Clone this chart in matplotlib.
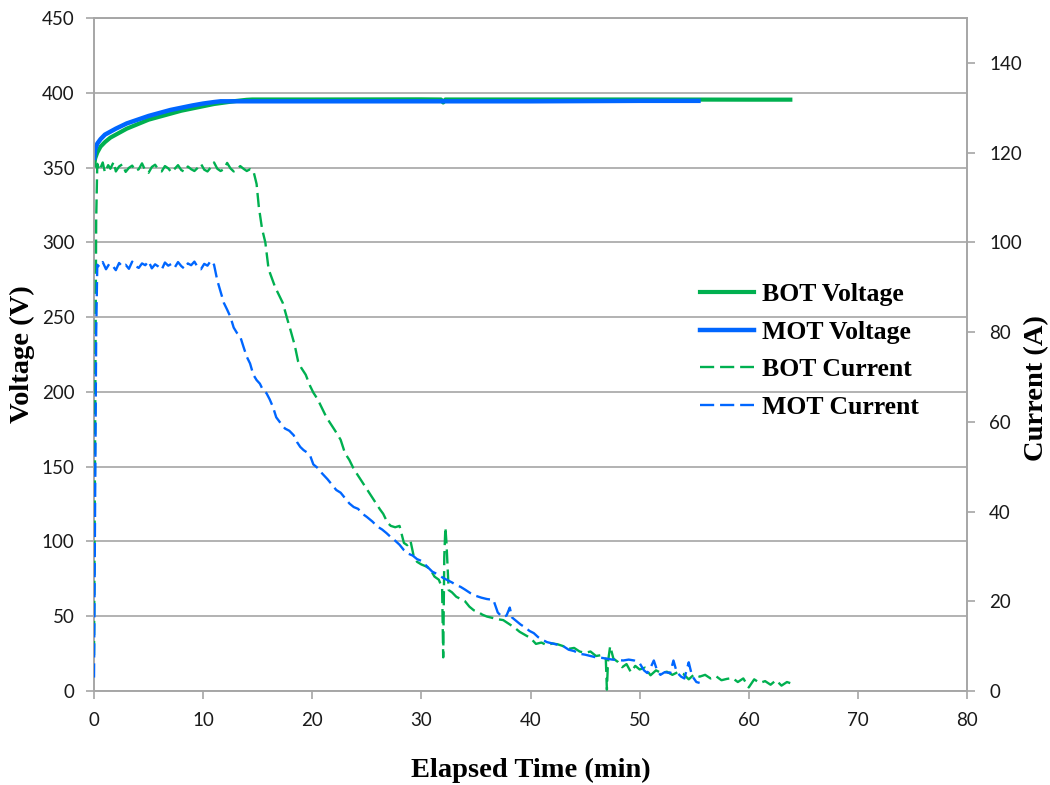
import matplotlib
matplotlib.use("Agg")
import matplotlib.pyplot as plt
from matplotlib.lines import Line2D

# --- voltage (V) vs elapsed time (min) ---
bot_v_time = [0.0, 0.1, 0.3, 0.6, 1.0, 1.5, 2.0, 3.0, 4.0, 5.0, 6.0, 7.0, 8.0, 9.0,
              10.0, 11.0, 12.0, 13.0, 14.0, 14.5, 20.0, 30.0, 31.8, 32.0, 32.2,
              40.0, 50.0, 60.0, 64.0]
bot_v = [350, 356, 360, 364, 367, 370, 372, 376, 379, 382, 384, 386, 388, 389.5,
         391, 392.5, 393.5, 394.5, 395.3, 395.5, 395.5, 395.6, 395.5, 393.5, 395.5,
         395.5, 395.5, 395.4, 395.4]

mot_v_time = [0.0, 0.1, 0.3, 0.6, 1.0, 1.5, 2.0, 3.0, 4.0, 5.0, 6.0, 7.0, 8.0, 9.0,
              10.0, 11.0, 11.6, 20.0, 30.0, 40.0, 47.0, 50.0, 55.6]
mot_v = [355, 362, 366, 369, 372, 374, 376, 379.5, 382, 384.5, 386.5, 388.5, 390,
         391.5, 392.8, 393.8, 394.3, 394.3, 394.3, 394.3, 394.5, 394.6, 394.6]

# --- current (A) vs elapsed time (min) ---
bot_i_time = [0.0, 0.1, 0.2, 0.3,
              0.5, 0.8, 1.0, 1.3, 1.5, 1.8, 2.0, 2.3, 2.6, 2.9,
              3.2, 3.5, 3.8, 4.1, 4.4, 4.7, 5.0, 5.3, 5.6, 5.9,
              6.2, 6.5, 6.8, 7.1, 7.4, 7.7, 8.0, 8.3, 8.6, 8.9,
              9.2, 9.5, 9.8, 10.1, 10.4, 10.7, 11.0, 11.3, 11.6, 11.9,
              12.2, 12.5, 12.8, 13.1, 13.4, 13.7, 14.0, 14.3, 14.6,
              14.9, 15.1, 15.4, 15.7, 16.0, 16.3, 16.6, 17.0, 17.3, 17.7,
              18.0, 18.4, 18.7, 19.0, 19.4, 19.8, 20.1, 20.5, 20.9, 21.3,
              21.7, 22.1, 22.6, 23.0, 23.4, 23.8, 24.2, 24.6, 25.0, 25.4,
              25.8, 26.2, 26.5, 26.9, 27.2, 27.6, 28.0, 28.4, 28.7, 29.0,
              29.3, 29.6, 30.0, 30.4, 30.8, 31.2, 31.6, 31.9, 32.0, 32.1,
              32.2, 32.3, 32.5, 32.8, 33.2, 33.6, 34.0, 34.4, 34.8, 35.2,
              35.6, 36.0, 36.5, 37.0, 37.5, 38.0, 38.5, 39.0, 39.5, 40.0,
              40.5, 41.0, 41.5, 42.0, 42.5, 43.0, 43.5, 44.0, 44.5, 45.0,
              45.5, 46.0, 46.5, 46.9, 47.0, 47.1, 47.3, 47.6, 48.0, 48.4,
              48.8, 49.2, 49.6, 50.0, 50.5, 51.0, 51.5, 52.0, 52.5, 53.0,
              53.5, 54.0, 54.5, 55.0, 55.5, 56.0, 56.5, 57.0, 57.5, 58.0,
              58.5, 59.0, 59.5, 60.0, 60.5, 61.0, 61.5, 62.0, 62.5, 63.0,
              63.5, 64.0]
bot_i = [8, 55, 105, 117.5,
         116.0, 117.8, 115.6, 117.2, 116.4, 117.9, 115.8, 116.9, 117.4, 115.7,
         116.6, 117.1, 115.9, 116.3, 117.6, 116.0, 115.5, 116.8, 117.3, 116.2,
         115.8, 117.0, 116.5, 115.6, 116.4, 117.2, 116.1, 115.7, 116.9, 116.3,
         115.9, 116.6, 117.5, 116.2, 115.8, 116.7, 117.8, 116.4, 115.9, 116.3,
         117.7, 116.5, 115.8, 116.2, 117.0, 116.4, 115.9, 116.3, 116.0,
         113, 108, 103, 100, 94, 92, 90, 88, 86.5, 83,
         80.5, 77, 73.5, 72, 70.5, 68, 66.5, 65, 63, 61,
         59.5, 58, 56, 53, 51.5, 49.5, 48, 46.5, 45, 43.5,
         42, 40.5, 39.5, 37.5, 36.8, 36.5, 36.8, 33, 32.5, 33.5,
         30, 28.8, 28.2, 27.8, 27.2, 25.5, 24.8, 23, 7.5, 30,
         36.5, 33, 22.5, 22, 21, 20.5, 20, 18.8, 18, 17.6,
         17, 16.6, 16.3, 16, 15.8, 15, 14.2, 13.2, 12.5, 11.8,
         10.5, 10.8, 10.2, 10.6, 10.4, 10.0, 9.4, 9.6, 8.8, 8.5,
         8.8, 7.8, 8.0, 7.2, 0.3, 6.5, 10, 7.2, 6.5, 5.3,
         6.0, 4.2, 5.6, 4.8, 5.2, 3.5, 4.6, 4.0, 4.3, 3.6,
         4.2, 3.8, 2.6, 3.7, 3.2, 3.6, 2.8, 3.3, 2.4, 2.7,
         2.9, 2.0, 2.8, 0.8, 2.6, 1.8, 2.2, 1.4, 2.4, 1.2,
         2.0, 1.6]

mot_i_time = [0.0, 0.1, 0.2, 0.3,
              0.5, 0.8, 1.1, 1.4, 1.7, 2.0, 2.3, 2.6, 2.9, 3.2,
              3.5, 3.8, 4.1, 4.4, 4.7, 5.0, 5.3, 5.6, 5.9, 6.2,
              6.5, 6.8, 7.1, 7.4, 7.7, 8.0, 8.3, 8.6, 8.9, 9.2,
              9.5, 9.8, 10.1, 10.4, 10.7, 11.0,
              11.3, 11.6, 11.9, 12.2, 12.5, 12.8, 13.1, 13.4, 13.7, 14.0,
              14.3, 14.6, 14.9, 15.2, 15.5, 15.8, 16.1, 16.4, 16.7, 17.1,
              17.5, 17.9, 18.3, 18.6, 18.9, 19.2, 19.5, 19.8, 20.1, 20.5,
              20.9, 21.4, 21.8, 22.2, 22.6, 23.0, 23.4, 23.8, 24.2, 24.6,
              25.0, 25.5, 26.0, 26.4, 26.8, 27.2, 27.6, 28.0, 28.4, 28.8,
              29.2, 29.6, 30.0, 30.5, 31.0, 31.5, 32.0, 32.4, 32.8, 33.2,
              33.6, 34.0, 34.5, 35.0, 35.5, 36.0, 36.6, 37.0, 37.4, 37.8,
              38.1, 38.3, 38.7, 39.1, 39.5, 39.9, 40.3, 40.7, 41.1, 41.5,
              42.0, 42.5, 43.0, 43.5, 44.0, 44.5, 45.0, 45.5, 46.0, 46.5,
              47.0, 47.5, 48.0, 48.5, 49.0, 49.5, 50.0, 50.4, 50.7, 51.0,
              51.3, 51.6, 51.9, 52.3, 52.8, 53.1, 53.4, 53.8, 54.1, 54.5,
              54.8, 55.2, 55.5]
mot_i = [3, 40, 80, 95,
         94.5, 95.6, 94.0, 95.2, 94.8, 93.8, 95.4, 94.6, 95.0, 94.1,
         95.7, 94.7, 94.3, 95.3, 94.9, 95.8, 94.2, 95.1, 94.6, 93.9,
         95.5, 94.8, 95.2, 94.4, 95.6, 94.7, 94.1, 95.3, 94.9, 95.7,
         94.5, 94.0, 95.2, 94.8, 95.9, 95.0,
         91.5, 89, 86.5, 85, 83.4, 81, 79.8, 79, 76.7, 74.5,
         73, 70.5, 69.3, 68.5, 67, 66.4, 65, 63.3, 61, 59.7,
         58.5, 58, 57, 55.5, 54.4, 53.7, 53.2, 52.5, 50.5, 49.7,
         48.5, 47.2, 46, 44.8, 44.2, 43, 41.8, 41, 40.6, 39.5,
         38.8, 37.8, 36.6, 36, 35.2, 34.3, 33.5, 32.6, 31.4, 30.6,
         30.2, 29.4, 29.0, 27.8, 26.6, 26.0, 25.2, 24.7, 24.2, 23.6,
         23.2, 22.6, 21.8, 21.2, 20.8, 20.5, 20.3, 17.5, 16.5, 16.8,
         18.6, 16.4, 15.6, 14.8, 14.2, 13.4, 12.9, 12.0, 11.4, 10.9,
         10.6, 10.3, 10.0, 9.2, 8.9, 8.3, 8.1, 7.8, 7.5, 7.4,
         7.2, 7.0, 6.9, 6.8, 7.0, 6.8, 6.2, 4.6, 4.0, 5.2,
         6.8, 4.6, 3.6, 4.2, 4.0, 6.8, 4.2, 3.2, 2.8, 6.4,
         3.4, 2.0, 1.8]

GREEN = "#00B050"
BLUE = "#0066FF"
GRID = "#A6A6A6"
TICKTXT = "#1A1A1A"

plt.rcParams["font.family"] = ["Lato", "DejaVu Sans"]
serif_bold = dict(family="Liberation Serif", weight="bold", size=20.5)

fig = plt.figure(figsize=(10.5, 7.85), dpi=100)
ax = fig.add_axes([94 / 1050, 1 - 691 / 785, (967 - 94) / 1050, (691 - 18) / 785])
ax2 = ax.twinx()

ax.plot(bot_v_time, bot_v, color=GREEN, lw=3.0, solid_capstyle="butt", zorder=3)
ax.plot(mot_v_time, mot_v, color=BLUE, lw=3.2, solid_capstyle="butt", zorder=4)

dash = (6, 2.5)
ax2.plot(bot_i_time, bot_i, color=GREEN, lw=1.7, dashes=dash, zorder=3)
ax2.plot(mot_i_time, mot_i, color=BLUE, lw=1.7, dashes=dash, zorder=3)

ax.set_xlim(0, 80)
ax.set_ylim(0, 450)
ax2.set_ylim(0, 150)
ax.set_xticks(range(0, 81, 10))
ax.set_yticks(range(0, 451, 50))
ax2.set_yticks(range(0, 141, 20))

ax.yaxis.grid(True, color=GRID, lw=1.2)
ax.set_axisbelow(True)
for a in (ax, ax2):
    for side in ("left", "right", "bottom", "top"):
        a.spines[side].set_color(GRID)
        a.spines[side].set_linewidth(1.2)
    a.tick_params(colors=GRID, labelcolor=TICKTXT, labelsize=13.5, length=6,
                  width=1.2, direction="out")
ax.tick_params(axis="y", pad=8)
ax.tick_params(axis="x", pad=9)
ax2.tick_params(axis="y", pad=10)

ax.set_xlabel("Elapsed Time (min)", va="center", **serif_bold)
ax.set_ylabel("Voltage (V)", va="center", **serif_bold)
ax2.set_ylabel("Current (A)", va="center", rotation=90, **serif_bold)
ax.xaxis.set_label_coords(0.5, (691 - 770) / 673)
ax.yaxis.set_label_coords((22 - 94) / 873, 0.5)
ax2.yaxis.set_label_coords((1037 - 94) / 873, 0.45)

handles = [
    Line2D([], [], color=GREEN, lw=3.0),
    Line2D([], [], color=BLUE, lw=3.2),
    Line2D([], [], color=GREEN, lw=1.7, dashes=dash),
    Line2D([], [], color=BLUE, lw=1.7, dashes=dash),
]
labels = ["BOT Voltage", "MOT Voltage", "BOT Current", "MOT Current"]
ax2.legend(handles, labels, loc="center left", frameon=False,
           bbox_to_anchor=(700 / 1050, 1 - 351 / 785), bbox_transform=fig.transFigure,
           borderpad=0, borderaxespad=0, handlelength=2.1, handletextpad=0.3,
           labelspacing=0.58, prop=dict(family="Liberation Serif", weight="bold", size=18.5))

fig.savefig("out.png", dpi=100)
